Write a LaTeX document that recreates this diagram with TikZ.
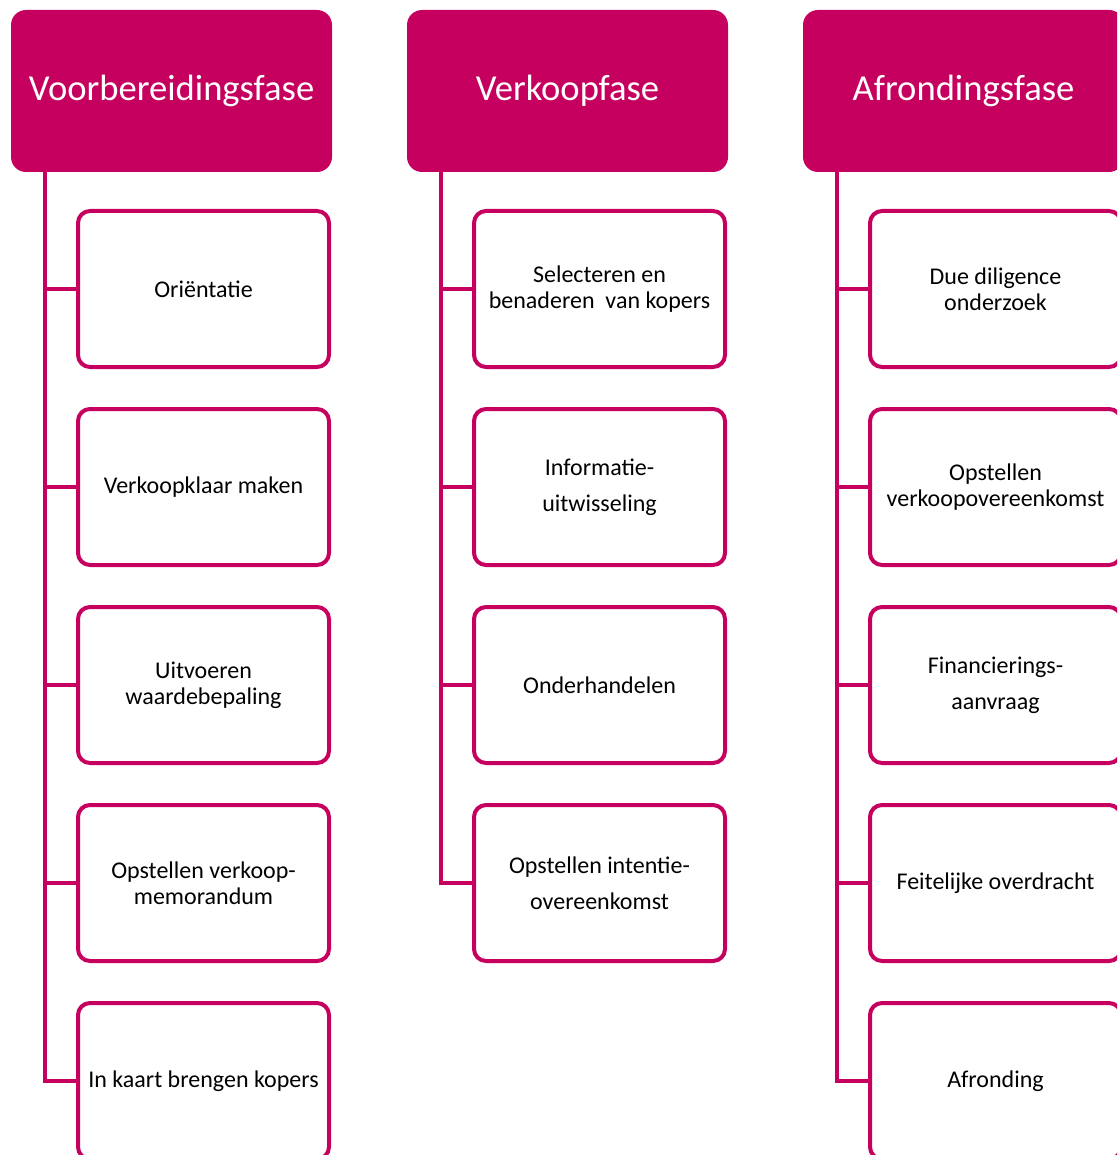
\documentclass[tikz,border=0pt]{standalone}
\usepackage{fontspec}
\setmainfont{Carlito}
\definecolor{mag}{RGB}{197,0,94}
\begin{document}
\begin{tikzpicture}[x=1pt,y=-1pt,
 head/.style={fill=mag, rounded corners=15pt, minimum width=321pt, minimum height=162pt, text=white, font=\fontsize{36.6}{44}\selectfont, inner sep=0pt},
 child/.style={draw=mag, line width=4pt, fill=white, rounded corners=12pt, minimum width=251pt, minimum height=156pt, align=center, font=\fontsize{24}{26}\selectfont, inner sep=0pt},
 wide/.style={font=\fontsize{24}{36}\selectfont},
 conn/.style={draw=mag, line width=4pt}]
\useasboundingbox (0,0) rectangle (1117,1155);
\clip (0,0) rectangle (1117,1155);

% headers
\node[head] (h1) at (171.5,91) {Voorbereidingsfase};
\node[head] (h2) at (567.5,91) {Verkoopfase};
\node[head] (h3) at (963.5,91) {Afrondingsfase};

% trunk start points
\coordinate (t1) at (45,172);
\coordinate (t2) at (441,172);
\coordinate (t3) at (837,172);

% column 1
\node[child] (a1) at (203.5,289) {Oriëntatie};
\node[child] (a2) at (203.5,487) {Verkoopklaar maken};
\node[child] (a3) at (203.5,685) {Uitvoeren\\waardebepaling};
\node[child] (a4) at (203.5,883) {Opstellen verkoop-\\memorandum};
\node[child] (a5) at (203.5,1081) {In kaart brengen kopers};

% column 2
\node[child] (b1) at (599.5,289) {Selecteren en\\benaderen\ \ van kopers};
\node[child,wide] (b2) at (599.5,487) {Informatie-\\uitwisseling};
\node[child] (b3) at (599.5,685) {Onderhandelen};
\node[child,wide] (b4) at (599.5,883) {Opstellen intentie-\\overeenkomst};

% column 3
\node[child] (c1) at (995.5,289) {Due diligence\\onderzoek};
\node[child] (c2) at (995.5,487) {Opstellen\\verkoopovereenkomst};
\node[child,wide] (c3) at (995.5,685) {Financierings-\\aanvraag};
\node[child] (c4) at (995.5,883) {Feitelijke overdracht};
\node[child] (c5) at (995.5,1081) {Afronding};

% connectors
\draw[conn] (t1) |- (a5.west);
\foreach \n in {a1,a2,a3,a4} \draw[conn] (\n.west) -- (\n.west -| t1);
\draw[conn] (t2) |- (b4.west);
\foreach \n in {b1,b2,b3} \draw[conn] (\n.west) -- (\n.west -| t2);
\draw[conn] (t3) |- (c5.west);
\foreach \n in {c1,c2,c3,c4} \draw[conn] (\n.west) -- (\n.west -| t3);
\end{tikzpicture}
\end{document}
